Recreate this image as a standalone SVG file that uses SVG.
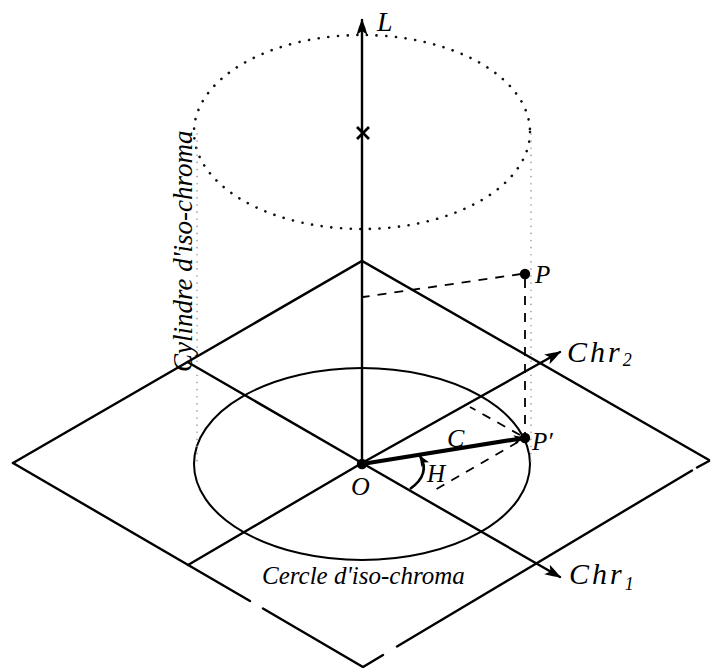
<svg xmlns="http://www.w3.org/2000/svg" width="711" height="668" viewBox="0 0 711 668">
<style>
.ln{stroke:#000;stroke-width:2.4;fill:none;stroke-linecap:round}
.thin{stroke:#000;stroke-width:2;fill:none}
.dash{stroke:#000;stroke-width:1.8;fill:none;stroke-dasharray:9 8}
.dot{stroke:#111;stroke-width:2.6;fill:none;stroke-linecap:round;stroke-dasharray:0.1 9.6}
.fdot{stroke:#999;stroke-width:1.6;fill:none;stroke-linecap:round;stroke-dasharray:0.1 7}
.t{font-family:"Liberation Serif","Times New Roman",serif;font-style:italic;fill:#000}
</style>
<defs>
<marker id="ah" viewBox="0 0 16 12" refX="15" refY="6" markerWidth="16" markerHeight="12" markerUnits="userSpaceOnUse" orient="auto">
<path d="M0,0.5 Q9,3 16,6 Q9,9 0,11.5 L4,6 z" fill="#000"/>
</marker>
<marker id="ahs" viewBox="0 0 11 9" refX="10" refY="4.5" markerWidth="11" markerHeight="9" markerUnits="userSpaceOnUse" orient="auto">
<path d="M0,0 L11,4.5 L0,9 L2.5,4.5 z" fill="#000"/>
</marker>
</defs>
<rect width="711" height="668" fill="#fff"/>

<g id="plane">
<path class="ln" d="M13 463 L362 261 L709 460"/>
<path class="ln" d="M709 461 L697 467.5 M692 470.5 L397 646.5 M383 655 L363 667"/>
<path class="ln" d="M363 667 L263 608.5 M250 601 L13 463"/>
</g>

<g id="circle">
<ellipse class="thin" cx="362" cy="464" rx="168" ry="96"/>
</g>

<g id="cylinder">
<ellipse class="dot" cx="362" cy="132" rx="168" ry="97"/>
<path class="fdot" d="M197 134 V462 M531 134 V462"/>
</g>

<g id="connectors">
<path class="ln" d="M362 463 V20" marker-end="url(#ah)"/>
<path class="ln" d="M187.5 362 L362 463 L560 577" marker-end="url(#ah)"/>
<path class="ln" d="M188 565 L362 463 L560 352" marker-end="url(#ah)"/>
<path class="dash" d="M521 274 L363 297"/>
<path class="dash" d="M525 279 V434"/>
<path class="dash" d="M520 435 L470 407"/>
<path class="dash" d="M518 442 L433 491"/>
<path d="M362 464 L524 438" stroke="#000" stroke-width="4.2" fill="none" marker-end="url(#ahs)"/>
<path d="M410 489 Q431 474 420 456" stroke="#000" stroke-width="2.6" fill="none" marker-end="url(#ahs)"/>
<path d="M357 127 L369 139 M369 127 L357 139" stroke="#000" stroke-width="2.8"/>
</g>

<g id="points">
<circle cx="362" cy="464" r="5.2"/>
<circle cx="525" cy="274" r="5.2"/>
<circle cx="525" cy="438" r="5.2"/>
</g>

<g id="labels">
<text class="t" x="377" y="31" font-size="28">L</text>
<text class="t" x="535" y="283" font-size="25">P</text>
<text class="t" x="532" y="450" font-size="25">P′</text>
<text class="t" x="447" y="447" font-size="26">C</text>
<text class="t" x="427" y="482" font-size="25">H</text>
<text class="t" x="351" y="495" font-size="26">O</text>
<text class="t" x="567" y="362" font-size="30" letter-spacing="3">Chr<tspan font-size="18" dy="4" letter-spacing="0">2</tspan></text>
<text class="t" x="569" y="584" font-size="30" letter-spacing="3">Chr<tspan font-size="18" dy="6" letter-spacing="0">1</tspan></text>
<text class="t" x="262" y="584" font-size="25">Cercle d'iso-chroma</text>
<text class="t" font-size="27" transform="translate(192 372) rotate(-90)">Cylindre d'iso-chroma</text>
</g>
</svg>
